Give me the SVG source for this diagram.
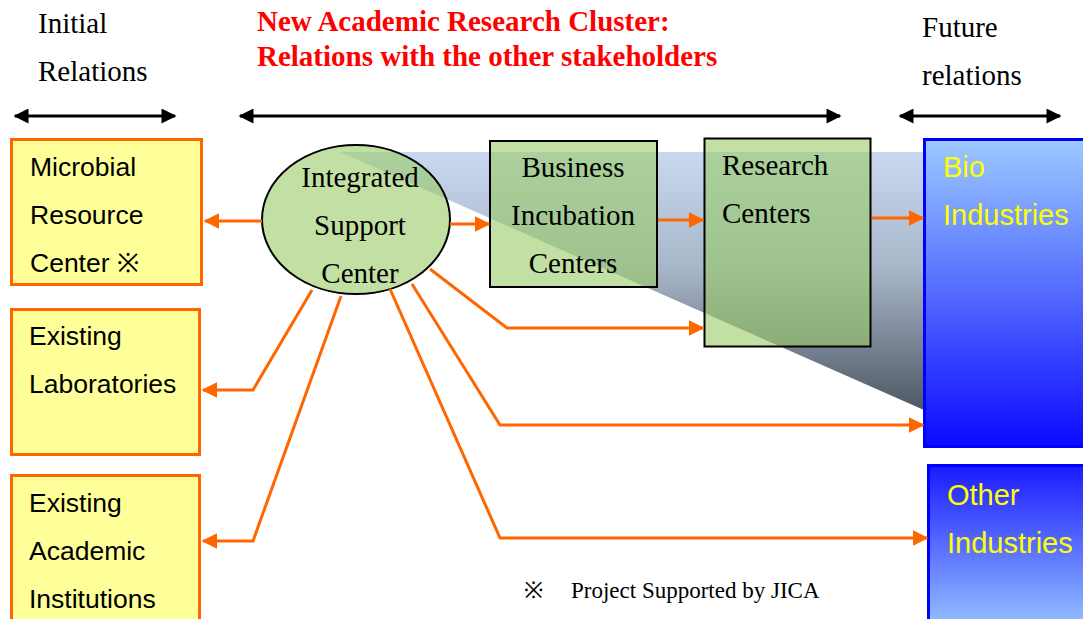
<svg xmlns="http://www.w3.org/2000/svg" width="1083" height="619" viewBox="0 0 1083 619">
  <defs>
    <linearGradient id="wedgeFill" x1="0" y1="152" x2="0" y2="410" gradientUnits="userSpaceOnUse">
      <stop offset="0" stop-color="#c8d8ef"/>
      <stop offset="0.45" stop-color="#a8b6c9"/>
      <stop offset="1" stop-color="#4e5865"/>
    </linearGradient>
    <linearGradient id="bioFill" x1="0" y1="0" x2="0" y2="1">
      <stop offset="0" stop-color="#9ccaff"/>
      <stop offset="1" stop-color="#0a0aff"/>
    </linearGradient>
    <linearGradient id="otherFill" x1="0" y1="0" x2="0" y2="1">
      <stop offset="0" stop-color="#1a1aff"/>
      <stop offset="1" stop-color="#9ccaff"/>
    </linearGradient>
    <marker id="orangeHead" viewBox="0 0 10 10" refX="9" refY="5" markerWidth="5.5" markerHeight="5.2" orient="auto" markerUnits="strokeWidth">
      <path d="M0,0 L10,5 L0,10 Z" fill="#ff6600"/>
    </marker>
    <marker id="blackHead" viewBox="0 0 10 10" refX="9" refY="5" markerWidth="5.5" markerHeight="5" orient="auto-start-reverse" markerUnits="strokeWidth">
      <path d="M0,0 L10,5 L0,10 Z" fill="#000"/>
    </marker>
  </defs>
  <style>
    .serif { font-family: "Liberation Serif", "Times New Roman", serif; }
    .sans { font-family: "Liberation Sans", Arial, sans-serif; }
    .head { font-size: 29px; fill: #000; }
    .title { font-size: 29px; font-weight: bold; fill: #ff0000; }
    .yellowBox { fill: #ffff99; stroke: #ff6600; stroke-width: 3; }
    .boxLabel { font-size: 26.5px; fill: #000; }
    .greenShape { fill: #99cc66; fill-opacity: 0.6; stroke: #000; stroke-width: 2; }
    .greenLabel { font-size: 29px; fill: #000; }
    .industry { stroke: #0000ff; stroke-width: 3; }
    .industryLabel { font-size: 29px; fill: #ffff00; }
    .link { fill: none; stroke: #ff6600; stroke-width: 3; marker-end: url(#orangeHead); }
    .span { fill: none; stroke: #000; stroke-width: 3; marker-start: url(#blackHead); marker-end: url(#blackHead); }
  </style>

  <rect width="1083" height="619" fill="#ffffff"/>

  <!-- column headings -->
  <g id="headings">
    <text class="serif head" x="38" y="33">Initial</text>
    <text class="serif head" x="38" y="81">Relations</text>
    <text class="serif title" x="257" y="31">New Academic Research Cluster:</text>
    <text class="serif title" x="257" y="66">Relations with the other stakeholders</text>
    <text class="serif head" x="922" y="37">Future</text>
    <text class="serif head" x="922" y="85">relations</text>
  </g>

  <!-- span arrows under headings -->
  <g id="spans">
    <line class="span" x1="15" y1="116" x2="175" y2="116"/>
    <line class="span" x1="240" y1="116" x2="840" y2="116"/>
    <line class="span" x1="900" y1="116" x2="1060" y2="116"/>
  </g>

  <!-- shaded wedge fanning toward the industries -->
  <polygon id="wedge" points="340,152 924,152 924,410" fill="url(#wedgeFill)"/>

  <g id="microbial">
    <rect class="yellowBox" x="11.5" y="139.5" width="190" height="145"/>
    <text class="sans boxLabel" x="30" y="176">Microbial</text>
    <text class="sans boxLabel" x="30" y="224">Resource</text>
    <text class="sans boxLabel" x="30" y="272">Center ※</text>
  </g>

  <g id="laboratories">
    <rect class="yellowBox" x="11.5" y="309.5" width="188" height="145"/>
    <text class="sans boxLabel" x="29" y="345">Existing</text>
    <text class="sans boxLabel" x="29" y="393">Laboratories</text>
  </g>

  <g id="academic">
    <rect class="yellowBox" x="11.5" y="475.5" width="188" height="160"/>
    <text class="sans boxLabel" x="29" y="512">Existing</text>
    <text class="sans boxLabel" x="29" y="560">Academic</text>
    <text class="sans boxLabel" x="29" y="608">Institutions</text>
  </g>

  <g id="support-center">
    <ellipse class="greenShape" cx="356" cy="219.5" rx="94" ry="74.5"/>
    <text class="serif greenLabel" x="360" y="187" text-anchor="middle">Integrated</text>
    <text class="serif greenLabel" x="360" y="235" text-anchor="middle">Support</text>
    <text class="serif greenLabel" x="360" y="283" text-anchor="middle">Center</text>
  </g>

  <g id="incubation">
    <rect class="greenShape" x="490" y="141" width="167" height="146"/>
    <text class="serif greenLabel" x="573" y="177" text-anchor="middle">Business</text>
    <text class="serif greenLabel" x="573" y="225" text-anchor="middle">Incubation</text>
    <text class="serif greenLabel" x="573" y="273" text-anchor="middle">Centers</text>
  </g>

  <g id="research">
    <rect class="greenShape" x="704.5" y="138.5" width="166" height="208"/>
    <text class="serif greenLabel" x="722" y="175">Research</text>
    <text class="serif greenLabel" x="722" y="223">Centers</text>
  </g>

  <g id="bio-industries">
    <rect class="industry" x="924.5" y="139.5" width="170" height="307" fill="url(#bioFill)"/>
    <text class="sans industryLabel" x="943" y="177">Bio</text>
    <text class="sans industryLabel" x="943" y="225">Industries</text>
  </g>

  <g id="other-industries">
    <rect class="industry" x="928.5" y="465.5" width="170" height="170" fill="url(#otherFill)"/>
    <text class="sans industryLabel" x="947" y="505">Other</text>
    <text class="sans industryLabel" x="947" y="553">Industries</text>
  </g>

  <!-- relations out of the support center -->
  <g id="connectors">
    <line class="link" x1="262" y1="221" x2="205" y2="221"/>
    <line class="link" x1="450" y1="224" x2="489" y2="224"/>
    <line class="link" x1="658" y1="220" x2="703" y2="220"/>
    <line class="link" x1="872" y1="218" x2="923" y2="218"/>
    <polyline class="link" points="430,269 507,328 703,328"/>
    <polyline class="link" points="412,284 500,425 923,425"/>
    <polyline class="link" points="390,289 500,538 927,538"/>
    <polyline class="link" points="312,290 253,390 203,390"/>
    <polyline class="link" points="341,296 253,541 203,541"/>
  </g>

  <g id="footnote">
    <text class="serif" x="524" y="598" font-size="23" fill="#000">※</text>
    <text class="serif" x="571" y="598" font-size="23" fill="#000">Project Supported by JICA</text>
  </g>
</svg>
